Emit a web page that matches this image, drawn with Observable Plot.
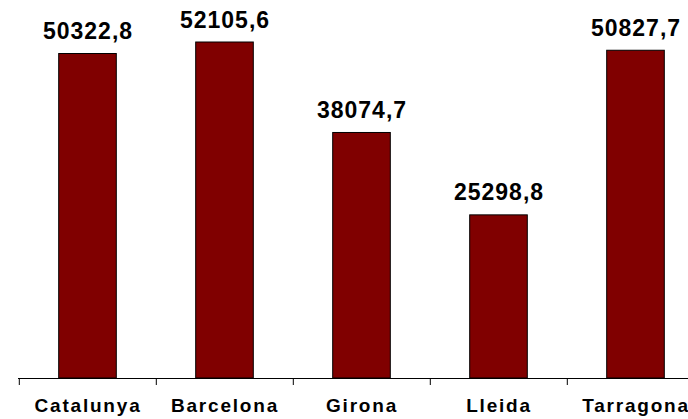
<!DOCTYPE html>
<html>
<head>
<meta charset="utf-8">
<script src="https://cdn.jsdelivr.net/npm/d3@7"></script>
<script src="https://cdn.jsdelivr.net/npm/@observablehq/plot@0.6"></script>
<style>
  html, body { margin: 0; padding: 0; background: #fff; }
  #wrap { width: 688px; height: 419px; overflow: hidden; }
  svg { font-family: "Liberation Sans", Arial, Helvetica, sans-serif; }
  g[aria-label="text"] text { letter-spacing: 1px; }
  g[aria-label="x-axis tick label"] text { letter-spacing: 1.8px; }
</style>
</head>
<body>
<div id="wrap"></div>
<script>
const regions = ["Catalunya", "Barcelona", "Girona", "Lleida", "Tarragona"];
const values = [50322.8, 52105.6, 38074.7, 25298.8, 50827.7];

const data = regions.map((r, i) => ({region: r, value: values[i]}));
const fmt = v => v.toFixed(1).replace(".", ",");

const W = 705, H = 419, ML = 18, MR = 0, MT = 4, MB = 41;
const step = (W - ML - MR) / regions.length;
const inset = (step - 58) / 2;

const chart = Plot.plot({
  width: W,
  height: H,
  marginLeft: ML,
  marginRight: MR,
  marginTop: MT,
  marginBottom: MB,
  style: {maxWidth: "none", background: "white", overflow: "visible"},
  x: {type: "band", domain: regions, padding: 0, axis: null, label: null},
  y: {domain: [0, 58000], axis: null},
  marks: [
    Plot.barY(data, {x: "region", y: "value", fill: "#800000", stroke: "#000", strokeWidth: 1, insetLeft: inset, insetRight: inset}),
    Plot.ruleY([0], {stroke: "#000", strokeWidth: 1}),
    Plot.axisX({tickSize: 7, tickFormat: () => "", label: null, dx: -step / 2, stroke: "#000", strokeWidth: 1}),
    Plot.axisX({tickSize: 0, tickPadding: 20, label: null, fontSize: 19, fontWeight: "bold", fill: "#000"}),
    Plot.text(data, {x: "region", y: "value", text: d => fmt(d.value), dy: -15, lineAnchor: "bottom", fontSize: 23, fontWeight: "bold", fill: "#000"})
  ]
});
document.getElementById("wrap").appendChild(chart);
</script>
</body>
</html>
